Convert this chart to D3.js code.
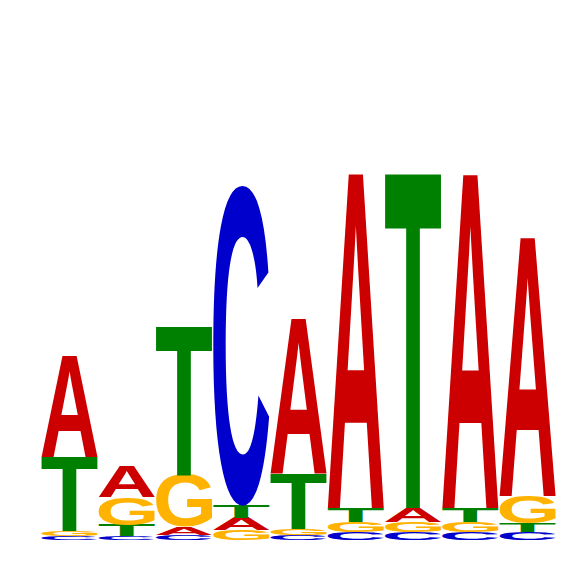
<!DOCTYPE html>
<html><head><meta charset="utf-8">
<script src="https://cdn.jsdelivr.net/npm/d3@7"></script>
<style>html,body{margin:0;padding:0;background:#fff;}svg{display:block;}</style>
</head><body>
<svg id="chart" width="566" height="566"></svg>
<script>
// Sequence logo data: letter heights (bits) per position
const positions = [1,2,3,4,5,6,7,8,9];
const letters = ["A","C","G","T"];
const heightA = [0.546, 0.162, 0.043, 0.065, 0.838, 1.805, 0.076, 1.800, 1.395];
const heightC = [0.022, 0.022, 0.027, 1.730, 0.027, 0.043, 0.043, 0.043, 0.043];
const heightG = [0.027, 0.151, 0.281, 0.054, 0.032, 0.054, 0.054, 0.054, 0.146];
const heightT = [0.400, 0.059, 0.805, 0.066, 0.297, 0.076, 1.805, 0.076, 0.049];
const colors = {A:"#CC0000", C:"#0000CC", G:"#FFB300", T:"#008000"};

const heights = {A:heightA, C:heightC, G:heightG, T:heightT};
const svg = d3.select("#chart");
const x = d3.scaleBand().domain(positions).range([41.5, 555.5]).paddingInner(0.025).paddingOuter(0);
const y = d3.scaleLinear().domain([0, 2]).range([540, 170]);

const FAMILY = "'Liberation Sans'";
const FS = 1000;

// measure true ink bounds of a glyph by scanning a canvas rendering
function inkBounds(letter) {
  const size = 800, W = 1200, H = 1200, ox = 200, oy = 1000;
  const c = document.createElement("canvas");
  c.width = W; c.height = H;
  const ctx = c.getContext("2d");
  ctx.font = `bold ${size}px ${FAMILY}`;
  ctx.textBaseline = "alphabetic";
  ctx.fillStyle = "#000";
  ctx.fillText(letter, ox, oy);
  const data = ctx.getImageData(0, 0, W, H).data;
  let minX = W, maxX = -1, minY = H, maxY = -1;
  for (let yy = 0; yy < H; yy++) {
    for (let xx = 0; xx < W; xx++) {
      if (data[(yy * W + xx) * 4 + 3] > 127) {
        if (xx < minX) minX = xx;
        if (xx > maxX) maxX = xx;
        if (yy < minY) minY = yy;
        if (yy > maxY) maxY = yy;
      }
    }
  }
  const k = FS / size;
  return {L: (ox - minX) * k, R: (maxX + 1 - ox) * k, A: (oy - minY) * k, D: (maxY + 1 - oy) * k};
}

function draw() {
  const metrics = {};
  letters.forEach(l => { metrics[l] = inkBounds(l); });

  const glyphs = [];
  positions.forEach((p, i) => {
    const stack = letters.map(l => ({letter:l, h:heights[l][i]})).sort((a,b) => a.h - b.h);
    let cum = 0;
    stack.forEach(s => {
      glyphs.push({pos:p, letter:s.letter, y0:cum, y1:cum + s.h});
      cum += s.h;
    });
  });

  svg.append("g").selectAll("text").data(glyphs).join("text")
    .attr("font-family", FAMILY)
    .attr("font-weight", "bold")
    .attr("font-size", FS)
    .attr("fill", d => colors[d.letter])
    .attr("transform", d => {
      const m = metrics[d.letter];
      const x0 = x(d.pos), w = x.bandwidth();
      const yTop = y(d.y1), h = y(d.y0) - y(d.y1);
      const sx = w / (m.L + m.R), sy = h / (m.A + m.D);
      return `translate(${x0 + m.L * sx},${yTop + m.A * sy}) scale(${sx},${sy})`;
    })
    .text(d => d.letter);
}

if (document.fonts && document.fonts.load) {
  document.fonts.load(`bold ${FS}px ${FAMILY}`, "ACGT").then(draw, draw);
} else draw();
</script>
</body></html>
